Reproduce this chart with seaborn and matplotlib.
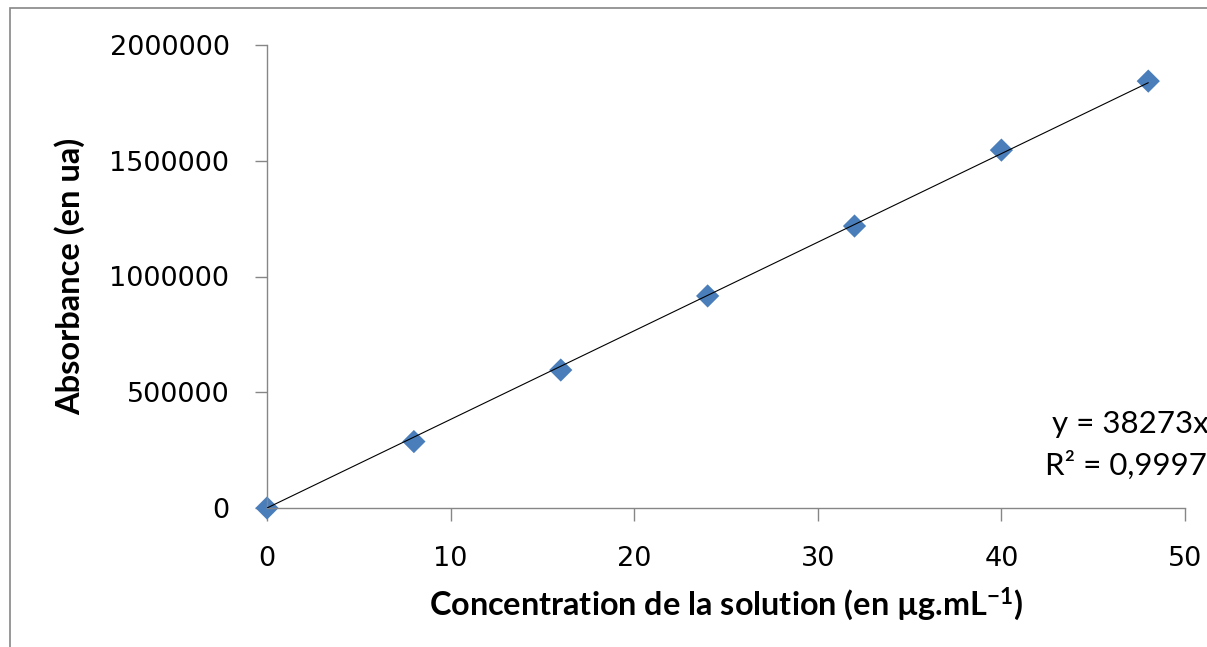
"""Calibration curve: absorbance vs concentration with linear trendline."""

import matplotlib.pyplot as plt
import pandas as pd
import seaborn as sns
from matplotlib.patches import Rectangle

CONCENTRATION = [0, 8, 16, 24, 32, 40, 48]
ABSORBANCE = [0, 287000, 596000, 916000, 1218000, 1546000, 1844000]
SLOPE = 38273
R2_TEXT = "0,9997"
X_TICKS = [0, 10, 20, 30, 40, 50]
Y_TICKS = [0, 500000, 1000000, 1500000, 2000000]

AXIS_GREY = "#868686"
POINT_BLUE = "#4A7EBB"
W, H = 1207, 647


def main() -> None:
    sns.set_style("ticks")
    plt.rcParams["font.family"] = ["DejaVu Sans"]
    plt.rcParams["text.color"] = "black"
    plt.rcParams["axes.labelcolor"] = "black"
    plt.rcParams["mathtext.fontset"] = "custom"
    plt.rcParams["mathtext.rm"] = "Lato:bold"
    plt.rcParams["mathtext.default"] = "rm"

    df = pd.DataFrame({"conc": CONCENTRATION, "absorb": ABSORBANCE})
    trend = pd.DataFrame({"conc": [0, max(CONCENTRATION)]})
    trend["absorb"] = SLOPE * trend["conc"]

    fig = plt.figure(figsize=(W / 100, H / 100), dpi=100)
    fig.patches.append(
        Rectangle((10 / W, -0.1), 1.5, 1.1 - 8 / H, transform=fig.transFigure,
                  fill=False, edgecolor=AXIS_GREY, lw=1.2)
    )
    ax = fig.add_axes([267 / W, 1 - 508 / H, (1185 - 267) / W, (508 - 45) / H])

    sns.lineplot(data=trend, x="conc", y="absorb", color="black", lw=0.8,
                 ax=ax, zorder=3)
    sns.scatterplot(data=df, x="conc", y="absorb", marker="D", s=140,
                    color=POINT_BLUE, edgecolor="none", ax=ax, zorder=2,
                    clip_on=False)

    ax.set_xlim(0, 50)
    ax.set_ylim(0, 2000000)
    ax.set_xticks(X_TICKS)
    ax.set_yticks(Y_TICKS)
    ax.set_yticklabels([str(v) for v in Y_TICKS])
    ax.tick_params(direction="out", length=9, width=1, color=AXIS_GREY,
                   labelsize=19.5, pad=18, labelcolor="black")
    for side in ("top", "right"):
        ax.spines[side].set_visible(False)
    for side in ("left", "bottom"):
        ax.spines[side].set_color(AXIS_GREY)
        ax.spines[side].set_linewidth(1)

    ax.set_xlabel("Concentration de la solution (en µg.mL$^{-1}$)",
                  family="Lato", weight="bold", size=23.3)
    ax.set_ylabel("Absorbance (en ua)", family="Lato", weight="bold", size=23.5)
    ax.xaxis.label.set_va("center")
    ax.yaxis.label.set_va("center")
    ax.xaxis.set_label_coords(0.5, (508 - 604) / 463)
    ax.yaxis.set_label_coords((70 - 267) / 918, 0.5)

    fig.text(1052 / W, 1 - 424 / H, f"y = {SLOPE}x", va="center", ha="left",
             family="Lato", size=22.5, color="black")
    fig.text(1045 / W, 1 - 465 / H, f"R² = {R2_TEXT}", va="center", ha="left",
             family="Lato", size=22.5, color="black")

    fig.savefig("out.png", dpi=100)
    plt.close(fig)


if __name__ == "__main__":
    main()
